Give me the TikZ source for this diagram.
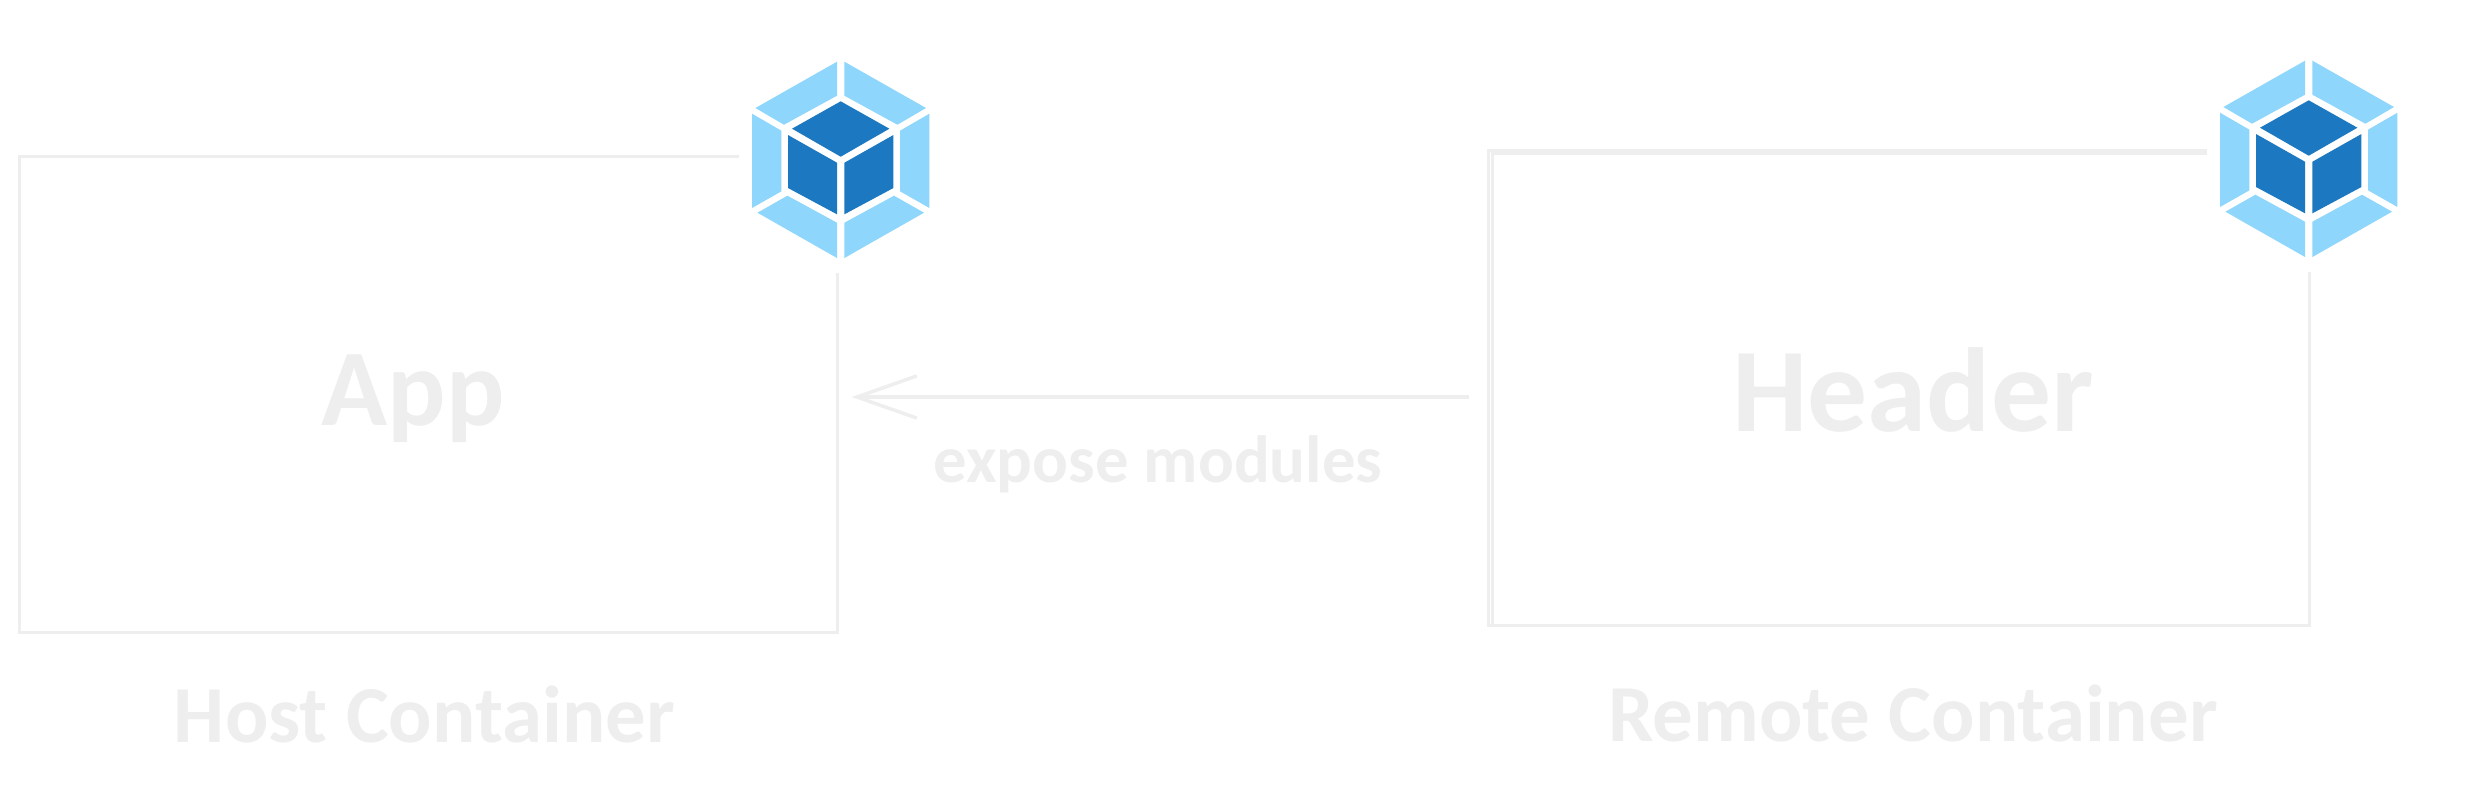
\documentclass[tikz,border=0pt]{standalone}
\usepackage{fontspec}
\setmainfont{Carlito}
\usepackage{tikz}
\usetikzlibrary{arrows.meta}
\definecolor{sketchgray}{HTML}{EEEEEE}
\definecolor{cubelight}{HTML}{8ED6FB}
\definecolor{cubedark}{HTML}{1C78C0}
\tikzset{
  containerbox/.style={draw=sketchgray,line width=.85pt,inner sep=0pt},
  flowline/.style={draw=sketchgray,line width=1pt,-{Straight Barb[length=17pt,width=12pt]}},
  sketchtext/.style={text=sketchgray,inner sep=0pt},
  webpacklogo/.pic={
    \fill[white] (-102,-113) rectangle (102,113);
    \fill[cubedark] (0,-58.7)--(48.7,-31.3)--(0,-3.3)--(-48.7,-31.3)--cycle;
    \foreach \s in {1,-1}{
      \begin{scope}[xscale=\s]
        \fill[cubelight] (3.7,-98.3)--(3.7,-64.3)--(56.7,-35.3)--(85.3,-52)--cycle;
        \fill[cubelight] (88.7,-46.3)--(59.3,-29.3)--(59.3,31.3)--(88.7,48)--cycle;
        \fill[cubelight] (83.3,52.7)--(53.3,35.7)--(3.7,62.7)--(3.7,98)--cycle;
        \fill[cubedark] (52.7,-25)--(3.7,2.7)--(3.7,54.3)--(52.7,28)--cycle;
      \end{scope}
    }
  }
}
\begin{document}
\begin{tikzpicture}[x=.01cm,y=-.01cm]
  \useasboundingbox (0,0) rectangle (2467,784);

  \node[containerbox,minimum width=8.17cm,minimum height=4.75cm] (host) at (428.5,394.5) {};
  \node[containerbox,minimum width=8.20cm,minimum height=4.74cm] (remote) at (1899,388) {};
  \node[containerbox,minimum width=8.16cm,minimum height=4.71cm] (remoteinner) at (1901,389.5) {};

  \pic (hostlogo) at (840.7,160) {webpacklogo};
  \pic (remotelogo) at (2308.7,159) {webpacklogo};

  \coordinate (flowrow) at (0,397);
  \draw[flowline,shorten <=.18cm,shorten >=.13cm] (remote.west |- flowrow) -- (host.east |- flowrow);

  \node[sketchtext,font=\bfseries\fontsize{31}{31}\selectfont] (applabel) at (413,399) {App};
  \node[sketchtext,font=\bfseries\fontsize{34}{34}\selectfont] (headerlabel) at (1913,390) {Header};
  \node[sketchtext,font=\bfseries\fontsize{19}{19}\selectfont] (exposelabel) at (1158,464) {expose modules};
  \node[sketchtext,font=\bfseries\fontsize{23}{23}\selectfont] (hostlabel) at (424.5,714) {Host Container};
  \node[sketchtext,font=\bfseries\fontsize{23}{23}\selectfont] (remotelabel) at (1913,713) {Remote Container};
\end{tikzpicture}
\end{document}
